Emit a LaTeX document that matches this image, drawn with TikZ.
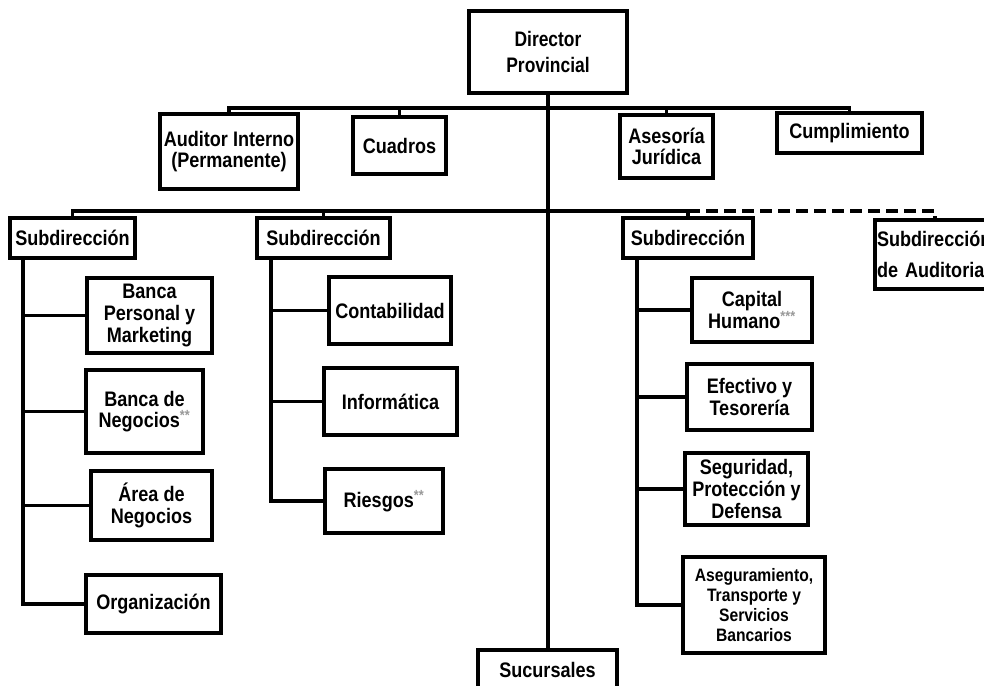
\documentclass[tikz,border=0pt]{standalone}
\usepackage{fontspec}
\setmainfont{Liberation Sans}
\usetikzlibrary{shadows}

\newcommand{\marca}[1]{\textsuperscript{\color{black!40}#1}}

\tikzset{
  caja/.style 2 args={draw, line width=3pt, fill=white, align=center, inner sep=1pt,
    minimum width=#1*0.75pt, minimum height=#2*0.75pt,
    font=\bfseries\fontsize{15.75}{16.3}\selectfont\addfontfeature{FakeStretch=0.86},
    drop shadow={shadow xshift=1.2pt, shadow yshift=-1.2pt, opacity=.3}},
  link/.style={line width=2.6pt},
  rama/.style={link, dash pattern=on 9pt off 4.5pt}
}

\begin{document}
\begin{tikzpicture}[x=0.75pt, y=-0.75pt]
    \useasboundingbox (0,0) rectangle (984,685);
    \clip (0,0) rectangle (984,685);

    % direccion y asesores
    \node[caja={158}{82}, font=\bfseries\fontsize{15.75}{20}\selectfont\addfontfeature{FakeStretch=0.83}] (dir) at (548,52) {Director\\Provincial};
    \node[caja={138}{75}] (aud) at (229,151.5) {Auditor Interno\\(Permanente)};
    \node[caja={93}{57}] (cua) at (399.5,145.5) {Cuadros};
    \node[caja={93}{63}] (ase) at (666.5,146.5) {Asesoría\\Jurídica};
    \node[caja={145}{40}] (cum) at (849.5,133) {Cumplimiento};

    % subdirecciones
    \node[caja={125}{40}] (sub1) at (72.5,238) {Subdirección};
    \node[caja={133}{40}] (sub2) at (323.5,238) {Subdirección};
    \node[caja={130}{40}] (sub3) at (688,238) {Subdirección};
    \node[caja={120}{69}, anchor=north west, text width=87pt, inner xsep=1.5pt, align=left,
          font=\bfseries\fontsize{15.75}{23}\selectfont\addfontfeature{FakeStretch=0.86}] (subaud) at (873,218) {Subdirección\\de Auditoria};

    % areas
    \node[caja={125}{75}] (bpm) at (149.5,315.5) {Banca\\Personal y\\Marketing};
    \node[caja={117}{83}] (bneg) at (144.5,411.5) {Banca de\\Negocios\marca{**}};
    \node[caja={121}{69}] (area) at (151.5,505.5) {Área de\\Negocios};
    \node[caja={135}{58}] (org) at (153.5,604) {Organización};

    \node[caja={122}{67}] (cont) at (390,310.5) {Contabilidad};
    \node[caja={133}{67}] (inf) at (390.5,401.5) {Informática};
    \node[caja={118}{64}] (rie) at (384,501) {Riesgos\marca{**}};

    \node[caja={120}{64}] (cap) at (752,310) {Capital\\Humano\marca{***}};
    \node[caja={125}{66}] (efe) at (749.5,397) {Efectivo y\\Tesorería};
    \node[caja={123}{72}] (seg) at (746.5,489) {Seguridad,\\Protección y\\Defensa};
    \node[caja={142}{96}, font=\bfseries\fontsize{13.5}{15}\selectfont\addfontfeature{FakeStretch=0.87}] (aseg) at (754,605)
          {Aseguramiento,\\Transporte y\\Servicios\\Bancarios};

    \node[caja={139}{40}, anchor=north] (suc) at (547.5,648) {Sucursales};

    % lineas
    \coordinate (bar1) at (548,108);
    \coordinate (bar2) at (548,211);
    \coordinate (t1) at (23,258);
    \coordinate (t2) at (271,258);
    \coordinate (t3) at (637,258);

    \draw[link] (dir.south) -- (dir.south |- suc.north);
    \draw[link] (aud.north) |- (bar1) -| (cum.north);
    \foreach \n in {cua,ase}
        \draw[link] (\n.north) -- (\n.north |- bar1);
    \draw[link] (sub1.north) |- (bar2) -| (sub3.north);
    \draw[link] (sub2.north) -- (sub2.north |- bar2);
    \draw[rama] (sub3.north |- bar2) -| (subaud.north);

    \draw[link] (t1) |- (org.west);
    \foreach \n in {bpm,bneg,area}
        \draw[link] (t1 |- \n.west) -- (\n.west);
    \draw[link] (t2) |- (rie.west);
    \foreach \n in {cont,inf}
        \draw[link] (t2 |- \n.west) -- (\n.west);
    \draw[link] (t3) |- (aseg.west);
    \foreach \n in {cap,efe,seg}
        \draw[link] (t3 |- \n.west) -- (\n.west);
\end{tikzpicture}
\end{document}
